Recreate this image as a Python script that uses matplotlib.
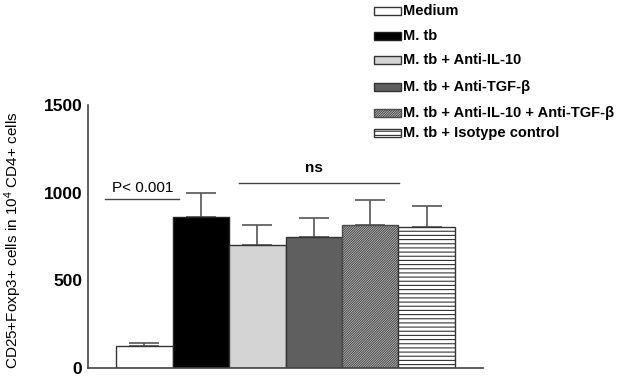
import matplotlib
matplotlib.use("Agg")
import matplotlib.pyplot as plt
from matplotlib.patches import Rectangle

plt.rcParams['font.family'] = ['Liberation Sans', 'DejaVu Sans']
plt.rcParams['mathtext.fontset'] = 'custom'
plt.rcParams['mathtext.rm'] = 'Liberation Sans'
plt.rcParams['mathtext.it'] = 'Liberation Sans'
plt.rcParams['hatch.linewidth'] = 0.8

categories = ['Medium', 'M. tb', 'M. tb + Anti-IL-10', 'M. tb + Anti-TGF-β',
              'M. tb + Anti-IL-10 + Anti-TGF-β', 'M. tb + Isotype control']
means = [125, 860, 702, 747, 815, 805]
errors = [17, 137, 114, 109, 143, 120]
yticks = [0, 500, 1000, 1500]

facecolors = ['white', 'black', '#d4d4d4', '#5f5f5f', '#dcdcdc', 'white']
edgecolors = ['#333333', '#222222', '#333333', '#333333', '#4a4a4a', '#333333']
hatches = [None, None, None, None, '//////////////', '----']

W, H = 621, 378
fig = plt.figure(figsize=(W / 100, H / 100), dpi=100)
ax = fig.add_axes([88 / W, 10 / H, 395 / W, 263 / H])

x = list(range(len(categories)))
ax.errorbar(x, means, yerr=[[0] * len(errors), errors], fmt='none',
            ecolor='#555555', elinewidth=1.2, capsize=10.8, capthick=1.2, zorder=1)
bars = ax.bar(x, means, width=1.0, color=facecolors, edgecolor=edgecolors,
              linewidth=1.0, zorder=2)
for b, h in zip(bars, hatches):
    if h:
        b.set_hatch(h)

ax.set_xlim(-1, 6)
ax.set_ylim(0, 1500)
ax.set_xticks([])
ax.set_yticks(yticks)
ax.set_yticklabels([str(t) for t in yticks], fontsize=12.5, fontweight='bold')
ax.tick_params(axis='y', length=0, pad=4)
for s in ['top', 'right']:
    ax.spines[s].set_visible(False)
for s in ['left', 'bottom']:
    ax.spines[s].set_color('#444444')
    ax.spines[s].set_linewidth(1.2)

ax.set_ylabel('CD25+Foxp3+ cells in 10$^{4}$ CD4+ cells', fontsize=11)
ax.yaxis.set_label_coords(-0.162, 0.487)

# significance annotations
ax.plot([-0.69, 0.62], [964, 964], color='#444444', lw=1.0)
ax.text(-0.035, 985, 'P< 0.001', ha='center', va='bottom', fontsize=11)
ax.plot([1.67, 4.52], [1055, 1055], color='#444444', lw=1.0)
ax.text(3.0, 1100, 'ns', ha='center', va='bottom', fontsize=11, fontweight='bold')

# legend drawn manually (uneven spacing as in reference)
row_y = [11, 36, 60, 87, 113, 133]
for lab, fc, ec, h, yy in zip(categories, facecolors, edgecolors, hatches, row_y):
    r = Rectangle((374 / W, 1 - (yy + 4) / H), 27 / W, 8 / H,
                  transform=fig.transFigure, facecolor=fc, edgecolor=ec,
                  linewidth=1.0, hatch=h)
    fig.add_artist(r)
    fig.text(403 / W, 1 - yy / H, lab, ha='left', va='center',
             fontsize=10.5, fontweight='bold')

fig.savefig('out.png', dpi=100)
